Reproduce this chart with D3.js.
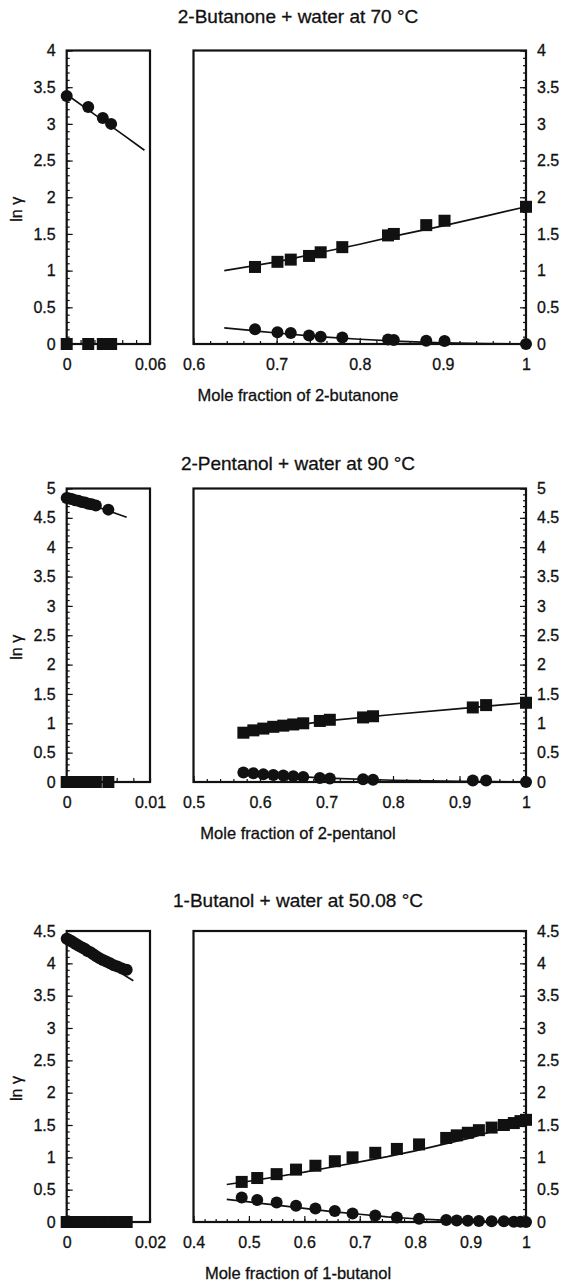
<!DOCTYPE html>
<html>
<head>
<meta charset="utf-8">
<script src="https://cdn.jsdelivr.net/npm/d3@7"></script>
<style>
  body { margin: 0; background: #fff; }
  svg text { font-family: "Liberation Sans", Arial, sans-serif; fill: #111; stroke: #111; stroke-width: 0.3px; }
</style>
</head>
<body>
<div id="chart"></div>
<script>
// 2-Butanone + water at 70 °C
const bnTitle = '2-Butanone + water at 70 °C';
const bnXLabel = 'Mole fraction of 2-butanone';
const bnLeftX = [0, 0.0155, 0.026, 0.032];
const bnLeftCircle = [3.38, 3.23, 3.08, 3.0];
const bnLeftSquare = [0, 0, 0, 0];
const bnLeftFitX = [0, 0.02, 0.04, 0.056];
const bnLeftFit = [3.4, 3.13, 2.86, 2.64];
const bnRightX = [0.674, 0.701, 0.717, 0.739, 0.753, 0.779, 0.834, 0.841, 0.880, 0.902, 1.0];
const bnRightSquare = [1.05, 1.12, 1.15, 1.2, 1.25, 1.32, 1.48, 1.5, 1.62, 1.68, 1.87];
const bnRightCircle = [0.2, 0.16, 0.15, 0.115, 0.1, 0.09, 0.06, 0.055, 0.045, 0.04, 0];
const bnFitX = [0.637, 0.7, 0.75, 0.8, 0.85, 0.9, 0.95, 1.0];
const bnFitSquare = [1.0, 1.12, 1.24, 1.36, 1.49, 1.61, 1.74, 1.87];
const bnFitCircle = [0.22, 0.15, 0.1, 0.065, 0.035, 0.015, 0.004, 0];

// 2-Pentanol + water at 90 °C
const pnTitle = '2-Pentanol + water at 90 °C';
const pnXLabel = 'Mole fraction of 2-pentanol';
const pnLeftX = [0, 0.0003, 0.0006, 0.001, 0.0014, 0.0018, 0.0022, 0.0026, 0.003, 0.0035, 0.005];
const pnLeftCircle = [4.84, 4.83, 4.82, 4.8, 4.79, 4.77, 4.76, 4.74, 4.73, 4.71, 4.64];
const pnLeftSquare = [0, 0, 0, 0, 0, 0, 0, 0, 0, 0, 0];
const pnLeftFitX = [0, 0.0036, 0.0072];
const pnLeftFit = [4.86, 4.69, 4.51];
const pnRightX = [0.575, 0.59, 0.605, 0.62, 0.635, 0.65, 0.665, 0.69, 0.705, 0.755, 0.77, 0.92, 0.94, 1.0];
const pnRightSquare = [0.84, 0.88, 0.91, 0.94, 0.96, 0.98, 1.0, 1.04, 1.06, 1.1, 1.12, 1.27, 1.31, 1.35];
const pnRightCircle = [0.16, 0.15, 0.13, 0.12, 0.11, 0.1, 0.085, 0.07, 0.06, 0.045, 0.04, 0.025, 0.025, 0];
const pnFitX = [0.575, 0.65, 0.7, 0.8, 0.9, 1.0];
const pnFitSquare = [0.82, 0.96, 1.04, 1.15, 1.25, 1.35];
const pnFitCircle = [0.16, 0.095, 0.065, 0.03, 0.01, 0];

// 1-Butanol + water at 50.08 °C
const buTitle = '1-Butanol + water at 50.08 °C';
const buXLabel = 'Mole fraction of 1-butanol';
const buLeftX = [0, 0.0004, 0.0008, 0.0012, 0.0017, 0.0022, 0.0027, 0.0032, 0.0038, 0.0044, 0.005,
  0.0057, 0.0064, 0.0071, 0.0079, 0.0087, 0.0095, 0.0104, 0.0113, 0.0122, 0.0133, 0.0144];
const buLeftCircle = [4.38, 4.37, 4.35, 4.34, 4.32, 4.30, 4.28, 4.26, 4.24, 4.22, 4.19,
  4.17, 4.14, 4.11, 4.08, 4.05, 4.03, 4.0, 3.97, 3.95, 3.92, 3.90];
const buLeftSquare = [0, 0, 0, 0, 0, 0, 0, 0, 0, 0, 0, 0, 0, 0, 0, 0, 0, 0, 0, 0, 0, 0];
const buLeftFitX = [0, 0.008, 0.016];
const buLeftFit = [4.37, 4.05, 3.73];
const buRightX = [0.487, 0.515, 0.55, 0.585, 0.62, 0.655, 0.687, 0.728, 0.767, 0.807,
  0.856, 0.875, 0.895, 0.915, 0.938, 0.96, 0.978, 0.99, 1.0];
const buRightSquare = [0.62, 0.68, 0.74, 0.81, 0.87, 0.94, 1.0, 1.07, 1.13, 1.2,
  1.3, 1.34, 1.38, 1.42, 1.46, 1.5, 1.53, 1.56, 1.58];
const buRightCircle = [0.38, 0.34, 0.30, 0.25, 0.21, 0.17, 0.13, 0.1, 0.07, 0.05,
  0.03, 0.025, 0.02, 0.015, 0.01, 0.01, 0.005, 0.003, 0];
const buFitX = [0.46, 0.5, 0.55, 0.6, 0.65, 0.7, 0.75, 0.8, 0.85, 0.9, 0.95, 1.0];
const buFitSquare = [0.58, 0.63, 0.7, 0.77, 0.85, 0.93, 1.01, 1.1, 1.2, 1.3, 1.43, 1.58];
const buFitCircle = [0.35, 0.31, 0.26, 0.21, 0.16, 0.12, 0.08, 0.05, 0.03, 0.015, 0.005, 0];

const yLabel = 'ln γ';

const panels = [
  { title: bnTitle, xLabel: bnXLabel, top: 50.5, bottom: 344, titleY: 23, yMax: 4,
    leftDomain: [0, 0.06], leftStep: 0.01, rightDomain: [0.6, 1],
    leftX: bnLeftX, leftCircle: bnLeftCircle, leftSquare: bnLeftSquare, leftFitX: bnLeftFitX, leftFit: bnLeftFit,
    rightX: bnRightX, rightCircle: bnRightCircle, rightSquare: bnRightSquare,
    fitX: bnFitX, fitCircle: bnFitCircle, fitSquare: bnFitSquare },
  { title: pnTitle, xLabel: pnXLabel, top: 488.5, bottom: 782, titleY: 470, yMax: 5,
    leftDomain: [0, 0.01], leftStep: 0.002, rightDomain: [0.5, 1],
    leftX: pnLeftX, leftCircle: pnLeftCircle, leftSquare: pnLeftSquare, leftFitX: pnLeftFitX, leftFit: pnLeftFit,
    rightX: pnRightX, rightCircle: pnRightCircle, rightSquare: pnRightSquare,
    fitX: pnFitX, fitCircle: pnFitCircle, fitSquare: pnFitSquare },
  { title: buTitle, xLabel: buXLabel, top: 931, bottom: 1222, titleY: 907, yMax: 4.5,
    leftDomain: [0, 0.02], leftStep: 0.005, rightDomain: [0.4, 1],
    leftX: buLeftX, leftCircle: buLeftCircle, leftSquare: buLeftSquare, leftFitX: buLeftFitX, leftFit: buLeftFit,
    rightX: buRightX, rightCircle: buRightCircle, rightSquare: buRightSquare,
    fitX: buFitX, fitCircle: buFitCircle, fitSquare: buFitSquare }
];

const W = 568, H = 1281;
const leftRange = [66.7, 150];
const rightRange = [193.5, 526];
const ink = '#111';
const fmt = d3.format('~g');

const svg = d3.select('#chart').append('svg')
  .attr('width', W).attr('height', H)
  .style('background', '#fff');

function styleAxis(sel, fontSize) {
  sel.select('.domain').remove();
  sel.selectAll('line').attr('stroke', ink).attr('stroke-width', 1.2);
  sel.selectAll('text').attr('fill', ink).style('font-size', fontSize + 'px');
}

function drawPanel(p) {
  const g = svg.append('g');
  const y = d3.scaleLinear().domain([0, p.yMax]).range([p.bottom, p.top]);
  const xl = d3.scaleLinear().domain(p.leftDomain).range(leftRange);
  const xr = d3.scaleLinear().domain(p.rightDomain).range(rightRange);

  const yMinor = d3.range(0, p.yMax + 1e-9, 0.1);
  const yMajor = d3.range(0, p.yMax + 1e-9, 0.5);

  // left y axis (ticks pointing inward)
  g.append('g').attr('transform', `translate(${leftRange[0]},0)`)
    .call(d3.axisLeft(y).tickValues(yMinor).tickSize(-3).tickFormat(''))
    .call(s => styleAxis(s, 16));
  g.append('g').attr('transform', `translate(${leftRange[0]},0)`)
    .call(d3.axisLeft(y).tickValues(yMajor).tickSize(-6).tickPadding(11).tickFormat(fmt))
    .call(s => styleAxis(s, 16));

  // right y axis
  g.append('g').attr('transform', `translate(${rightRange[1]},0)`)
    .call(d3.axisRight(y).tickValues(yMinor).tickSize(-3).tickFormat(''))
    .call(s => styleAxis(s, 16));
  g.append('g').attr('transform', `translate(${rightRange[1]},0)`)
    .call(d3.axisRight(y).tickValues(yMajor).tickSize(-6).tickPadding(11).tickFormat(fmt))
    .call(s => styleAxis(s, 16));

  // bottom axis, left plot
  g.append('g').attr('transform', `translate(0,${p.bottom})`)
    .call(d3.axisBottom(xl).tickValues(d3.range(p.leftDomain[0], p.leftDomain[1] + 1e-9, p.leftStep)).tickSize(-4).tickFormat(''))
    .call(s => styleAxis(s, 16));
  g.append('g').attr('transform', `translate(0,${p.bottom})`)
    .call(d3.axisBottom(xl).tickValues(p.leftDomain).tickSize(0).tickPadding(15).tickFormat(fmt))
    .call(s => styleAxis(s, 16));

  // bottom axis, right plot
  g.append('g').attr('transform', `translate(0,${p.bottom})`)
    .call(d3.axisBottom(xr).tickValues(d3.range(p.rightDomain[0], p.rightDomain[1] + 1e-9, 0.02)).tickSize(-3).tickFormat(''))
    .call(s => styleAxis(s, 16));
  g.append('g').attr('transform', `translate(0,${p.bottom})`)
    .call(d3.axisBottom(xr).tickValues(d3.range(p.rightDomain[0], p.rightDomain[1] + 1e-9, 0.1)).tickSize(-6).tickPadding(15).tickFormat(fmt))
    .call(s => styleAxis(s, 16));

  // frames
  [leftRange, rightRange].forEach(r => {
    g.append('rect')
      .attr('x', r[0]).attr('y', p.top)
      .attr('width', r[1] - r[0]).attr('height', p.bottom - p.top)
      .attr('fill', 'none').attr('stroke', ink).attr('stroke-width', 2.2);
  });

  const line = (xs) => d3.line().x(d => xs(d[0])).y(d => y(d[1]));

  // fitted curves
  g.append('path').datum(d3.zip(p.leftFitX, p.leftFit))
    .attr('d', line(xl)).attr('fill', 'none').attr('stroke', ink).attr('stroke-width', 1.7);
  g.append('path').datum(d3.zip(p.fitX, p.fitSquare))
    .attr('d', line(xr)).attr('fill', 'none').attr('stroke', ink).attr('stroke-width', 1.7);
  g.append('path').datum(d3.zip(p.fitX, p.fitCircle))
    .attr('d', line(xr)).attr('fill', 'none').attr('stroke', ink).attr('stroke-width', 1.7);

  // squares
  const sq = 12;
  const squares = [
    ...d3.zip(p.leftX, p.leftSquare).map(d => [xl(d[0]), y(d[1])]),
    ...d3.zip(p.rightX, p.rightSquare).map(d => [xr(d[0]), y(d[1])])
  ];
  g.selectAll('rect.sq').data(squares).enter().append('rect')
    .attr('class', 'sq')
    .attr('x', d => d[0] - sq / 2).attr('y', d => d[1] - sq / 2)
    .attr('width', sq).attr('height', sq).attr('fill', ink);

  // circles
  const circles = [
    ...d3.zip(p.leftX, p.leftCircle).map(d => [xl(d[0]), y(d[1])]),
    ...d3.zip(p.rightX, p.rightCircle).map(d => [xr(d[0]), y(d[1])])
  ];
  g.selectAll('circle').data(circles).enter().append('circle')
    .attr('cx', d => d[0]).attr('cy', d => d[1]).attr('r', 6).attr('fill', ink);

  // texts
  g.append('text').attr('x', 298).attr('y', p.titleY)
    .attr('text-anchor', 'middle').style('font-size', '19px').text(p.title);
  g.append('text').attr('x', 298).attr('y', p.bottom + 57)
    .attr('text-anchor', 'middle').style('font-size', '16.5px').text(p.xLabel);
  const yc = (p.top + p.bottom) / 2 + 12;
  g.append('text').attr('transform', `translate(16,${yc}) rotate(-90)`)
    .attr('dy', '0.35em').attr('text-anchor', 'middle').style('font-size', '16px').text(yLabel);
}

panels.forEach(drawPanel);
</script>
</body>
</html>
